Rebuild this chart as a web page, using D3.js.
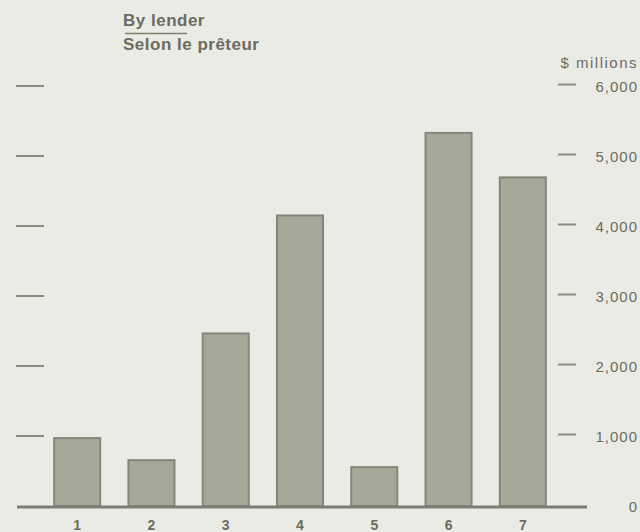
<!DOCTYPE html>
<html>
<head>
<meta charset="utf-8">
<script src="https://cdn.jsdelivr.net/npm/d3@7"></script>
<style>
  html, body { margin: 0; padding: 0; background: #ebebe6; }
  svg { display: block; }
</style>
</head>
<body>
<script>
const categories = ["1", "2", "3", "4", "5", "6", "7"];
const values = [970, 655, 2465, 4150, 555, 5330, 4695];
const tickValues = [0, 1000, 2000, 3000, 4000, 5000, 6000];
const tickLabels = ["0", "1,000", "2,000", "3,000", "4,000", "5,000", "6,000"];
const titleEn = "By lender";
const titleFr = "Selon le prêteur";
const unitLabel = "$ millions";

const W = 640, H = 532;
const svg = d3.select("body").append("svg").attr("width", W).attr("height", H);

svg.append("rect").attr("width", W).attr("height", H).attr("fill", "#ebebe6");

const x = d3.scaleBand().domain(categories).range([17, 583]).paddingInner(0.38).paddingOuter(0.5);
const y = d3.scaleLinear().domain([0, 6000]).range([506, 86]);

const textColor = "#6b6c60";
const font = "'Liberation Sans', Arial, sans-serif";

// Left ticks (no labels)
svg.append("g").selectAll("line").data(tickValues.filter(v => v > 0)).join("line")
  .attr("x1", 16).attr("x2", 44)
  .attr("y1", d => y(d)).attr("y2", d => y(d))
  .attr("stroke", "#8a8b80").attr("stroke-width", 2);

// Bars
svg.append("g").selectAll("rect").data(values).join("rect")
  .attr("x", (d, i) => x(categories[i]))
  .attr("width", x.bandwidth())
  .attr("y", d => y(d))
  .attr("height", d => y(0) - y(d))
  .attr("fill", "#a7a89a")
  .attr("stroke", "#85867a").attr("stroke-width", 2);

// Baseline
svg.append("line").attr("x1", 17).attr("x2", 587).attr("y1", y(0) + 1).attr("y2", y(0) + 1)
  .attr("stroke", "#7d7e72").attr("stroke-width", 3);

// Right axis
const rightAxis = d3.axisRight(y).tickValues(tickValues)
  .tickSize(0).tickFormat((d, i) => tickLabels[i]);
const ra = svg.append("g").call(rightAxis);
ra.select(".domain").remove();
ra.selectAll(".tick text")
  .attr("x", 638).attr("text-anchor", "end").attr("dy", "0.35em")
  .attr("fill", textColor).attr("font-family", font).attr("font-size", 15)
  .attr("letter-spacing", 1);
ra.selectAll(".tick").filter(d => d > 0).append("line")
  .attr("x1", 558).attr("x2", 576).attr("y1", -2).attr("y2", -2)
  .attr("stroke", "#8a8b80").attr("stroke-width", 2);

// Category axis labels
const bottomAxis = d3.axisBottom(x).tickSize(0);
const ba = svg.append("g").attr("transform", `translate(0,${y(0)})`).call(bottomAxis);
ba.select(".domain").remove();
ba.selectAll(".tick text")
  .attr("y", 24).attr("dy", 0)
  .attr("fill", textColor).attr("font-family", font).attr("font-size", 14)
  .attr("font-weight", "bold");

// Unit label
svg.append("text").attr("x", 638).attr("y", 68).attr("text-anchor", "end")
  .attr("fill", textColor).attr("font-family", font).attr("font-size", 15)
  .attr("letter-spacing", 1.5).text(unitLabel);

// Titles
svg.append("text").attr("x", 123).attr("y", 26)
  .attr("fill", textColor).attr("font-family", font).attr("font-size", 17)
  .attr("letter-spacing", 0.5)
  .attr("font-weight", "bold").text(titleEn);
svg.append("line").attr("x1", 125).attr("x2", 187).attr("y1", 33.5).attr("y2", 33.5)
  .attr("stroke", "#7d7e72").attr("stroke-width", 1.5);
svg.append("text").attr("x", 123).attr("y", 50)
  .attr("fill", textColor).attr("font-family", font).attr("font-size", 17)
  .attr("letter-spacing", 0.5)
  .attr("font-weight", "bold").text(titleFr);
</script>
</body>
</html>
